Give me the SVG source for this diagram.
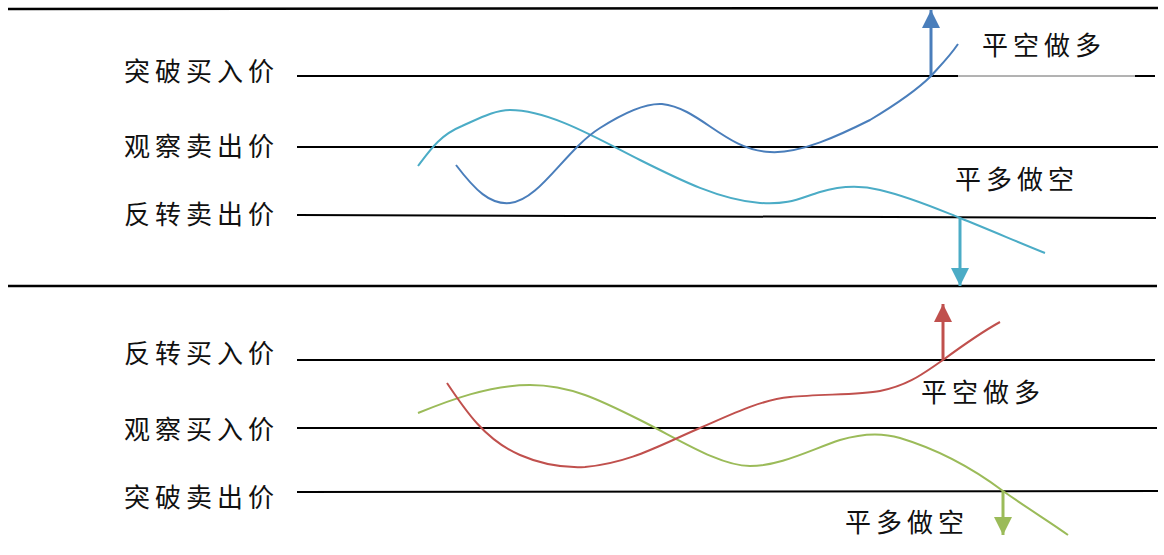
<svg xmlns="http://www.w3.org/2000/svg" width="1164" height="555" viewBox="0 0 1164 555">
<style>
.lbl{font-family:"Noto Sans CJK SC","Noto Sans",sans-serif;font-size:26px;letter-spacing:5px;fill:#111}
.ln{stroke:#000;stroke-width:2;fill:none}
.bd{stroke:#000;stroke-width:2.5;fill:none}
.cv{fill:none;stroke-width:2}
</style>
<defs>
<marker id="hBlue" markerUnits="userSpaceOnUse" markerWidth="18" markerHeight="18" viewBox="0 0 18 18" refX="18" refY="9" orient="auto"><path d="M0,0 L18,9 L0,18 z" fill="#4a7ebb"/></marker>
<marker id="hCyan" markerUnits="userSpaceOnUse" markerWidth="18" markerHeight="18" viewBox="0 0 18 18" refX="18" refY="9" orient="auto"><path d="M0,0 L18,9 L0,18 z" fill="#4bacc6"/></marker>
<marker id="hRed" markerUnits="userSpaceOnUse" markerWidth="18" markerHeight="18" viewBox="0 0 18 18" refX="18" refY="9" orient="auto"><path d="M0,0 L18,9 L0,18 z" fill="#c0504d"/></marker>
<marker id="hGreen" markerUnits="userSpaceOnUse" markerWidth="18" markerHeight="18" viewBox="0 0 18 18" refX="18" refY="9" orient="auto"><path d="M0,0 L18,9 L0,18 z" fill="#9bbb59"/></marker>
</defs>
<rect width="1164" height="555" fill="#fff"/>
<g id="frame">
<line class="bd" x1="8" y1="9" x2="1158" y2="8"/>
<line class="bd" x1="8" y1="286" x2="1157" y2="286"/>
</g>
<g id="level-breakout-buy">
<line class="ln" x1="297" y1="76" x2="958" y2="76"/>
<line x1="958" y1="76" x2="1135" y2="76" stroke="#666" stroke-width="1"/>
<line class="ln" x1="1135" y1="76" x2="1155" y2="76"/>
<text class="lbl" x="124" y="81">突破买入价</text>
</g>
<g id="level-observe-sell">
<line class="ln" x1="297" y1="147" x2="1158" y2="147"/>
<text class="lbl" x="124" y="156">观察卖出价</text>
</g>
<g id="level-reverse-sell">
<line class="ln" x1="297" y1="215" x2="1156" y2="218"/>
<text class="lbl" x="124" y="224">反转卖出价</text>
</g>
<g id="level-reverse-buy">
<line class="ln" x1="297" y1="360" x2="1155" y2="360"/>
<text class="lbl" x="124" y="363">反转买入价</text>
</g>
<g id="level-observe-buy">
<line class="ln" x1="297" y1="428" x2="1157" y2="428"/>
<text class="lbl" x="124" y="439">观察买入价</text>
</g>
<g id="level-breakout-sell">
<line class="ln" x1="297" y1="492" x2="1158" y2="491"/>
<text class="lbl" x="124" y="507">突破卖出价</text>
</g>
<g id="label-top-close-short">
<text class="lbl" x="982" y="55">平空做多</text>
</g>
<g id="label-top-close-long">
<text class="lbl" x="955" y="189">平多做空</text>
</g>
<g id="label-bottom-close-short">
<text class="lbl" x="921" y="402">平空做多</text>
</g>
<g id="label-bottom-close-long">
<text class="lbl" x="845" y="532">平多做空</text>
</g>
<g id="curves">
<path class="cv" stroke="#4bacc6" d="M418,166 C430,150 440,135 462,126 C480,118 495,110 510,110 C550,110 600,140 640,160 C680,180 720,200 760,203 C790,205 800,198 820,192 C840,186 860,185 880,190 C910,197 935,208 960,218 C990,230 1020,243 1045,253"/>
<path class="cv" stroke="#4a7ebb" d="M456,165 C475,190 490,205 510,203 C540,200 565,150 600,128 C625,112 645,103 662,104 C700,108 725,150 770,152 C800,154 840,135 870,120 C895,105 915,92 931,76 C940,66 950,56 958,44"/>
<path class="cv" stroke="#9bbb59" d="M418,413 C450,400 490,385 530,385 C570,385 600,400 640,420 C680,440 720,466 750,466 C780,466 810,450 840,440 C860,434 880,432 900,438 C940,450 975,470 1003,491 C1030,510 1050,522 1068,535"/>
<path class="cv" stroke="#c0504d" d="M447,383 C465,410 485,440 520,455 C545,466 565,468 585,467 C630,463 660,445 700,428 C730,415 760,400 790,397 C820,394 860,395 880,391 C910,385 925,372 943,360 C962,346 980,333 1000,322"/>
</g>
<g id="connectors">
<line x1="931" y1="76" x2="931" y2="10" stroke="#4a7ebb" stroke-width="3" marker-end="url(#hBlue)"/>
<line x1="960" y1="218" x2="960" y2="286" stroke="#4bacc6" stroke-width="3" marker-end="url(#hCyan)"/>
<line x1="943" y1="360" x2="943" y2="304" stroke="#c0504d" stroke-width="3" marker-end="url(#hRed)"/>
<line x1="1003" y1="491" x2="1003" y2="535" stroke="#9bbb59" stroke-width="3" marker-end="url(#hGreen)"/>
</g>
</svg>
